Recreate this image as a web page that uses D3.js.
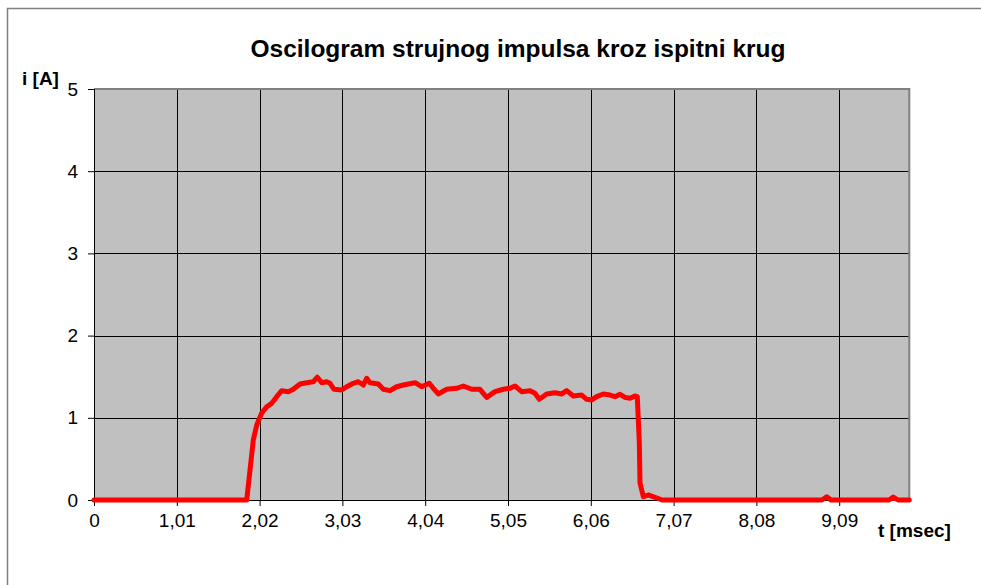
<!DOCTYPE html>
<html><head><meta charset="utf-8">
<script src="https://cdn.jsdelivr.net/npm/d3@7"></script>
<style>body{margin:0;background:#fff}svg{display:block}</style>
</head><body>
<script>
const title = "Oscilogram strujnog impulsa kroz ispitni krug";
const yLabel = "i [A]";
const xLabel = "t [msec]";
const xTicks = [0, 1.01, 2.02, 3.03, 4.04, 5.05, 6.06, 7.07, 8.08, 9.09];
const yTicks = [0, 1, 2, 3, 4, 5];
const tMax = 9.945;
const t = [0, 1.863, 1.903, 1.943, 1.985, 2.046, 2.107, 2.168, 2.229, 2.290, 2.370, 2.431, 2.513, 2.595, 2.675, 2.724, 2.778, 2.838, 2.879, 2.928, 3.021, 3.082, 3.163, 3.224, 3.285, 3.326, 3.367, 3.468, 3.529, 3.611, 3.692, 3.773, 3.916, 3.997, 4.090, 4.139, 4.200, 4.302, 4.424, 4.505, 4.607, 4.708, 4.790, 4.891, 4.993, 5.074, 5.135, 5.217, 5.318, 5.379, 5.432, 5.522, 5.623, 5.705, 5.766, 5.847, 5.949, 6.010, 6.071, 6.132, 6.213, 6.294, 6.355, 6.416, 6.477, 6.538, 6.599, 6.627, 6.652, 6.660, 6.701, 6.761, 6.843, 6.929, 8.880, 8.938, 8.990, 9.698, 9.750, 9.807, 9.945];
const current = [0, 0, 0.365, 0.730, 0.912, 1.058, 1.135, 1.176, 1.257, 1.330, 1.318, 1.347, 1.411, 1.427, 1.439, 1.493, 1.427, 1.439, 1.420, 1.347, 1.338, 1.378, 1.420, 1.439, 1.399, 1.481, 1.427, 1.411, 1.347, 1.330, 1.378, 1.399, 1.427, 1.378, 1.420, 1.359, 1.290, 1.347, 1.359, 1.387, 1.347, 1.347, 1.249, 1.318, 1.347, 1.359, 1.387, 1.318, 1.330, 1.298, 1.225, 1.290, 1.305, 1.290, 1.330, 1.265, 1.277, 1.225, 1.217, 1.257, 1.290, 1.277, 1.257, 1.286, 1.249, 1.237, 1.265, 1.257, 0.693, 0.207, 0.040, 0.061, 0.033, 0, 0, 0.040, 0, 0, 0.036, 0, 0];

const W = 981, H = 585;
const m = {left: 94, top: 89, right: 909.3, bottom: 500};
const svg = d3.select("body").append("svg").attr("width", W).attr("height", H);
const font = "'Liberation Sans', Arial, sans-serif";

// outer chart border
svg.append("rect").attr("x", 7.5).attr("y", 8.5).attr("width", W).attr("height", H)
  .attr("fill", "none").attr("stroke", "#808080").attr("stroke-width", 1.5);

const x = d3.scaleLinear().domain([0, tMax]).range([m.left, m.right]);
const y = d3.scaleLinear().domain([0, 5]).range([m.bottom, m.top]);

// plot area background
svg.append("rect").attr("x", m.left).attr("y", m.top)
  .attr("width", m.right - m.left).attr("height", m.bottom - m.top).attr("fill", "#c0c0c0");

// gridlines
const g = svg.append("g");
g.selectAll("line.h").data(yTicks.slice(1, -1)).join("line")
  .attr("x1", m.left).attr("x2", m.right)
  .attr("y1", d => Math.round(y(d)) + 0.5).attr("y2", d => Math.round(y(d)) + 0.5)
  .attr("stroke", "#000").attr("stroke-width", 1);
g.selectAll("line.v").data(xTicks.slice(1)).join("line")
  .attr("y1", m.top).attr("y2", m.bottom)
  .attr("x1", d => Math.round(x(d)) + 0.5).attr("x2", d => Math.round(x(d)) + 0.5)
  .attr("stroke", "#000").attr("stroke-width", 1);

// plot border top/right
svg.append("path")
  .attr("d", `M${m.left},${m.top} H${m.right} V${m.bottom}`)
  .attr("fill", "none").attr("stroke", "#808080").attr("stroke-width", 2);

// axes
const xAxis = d3.axisBottom(x).tickValues(xTicks).tickSize(6).tickPadding(8)
  .tickFormat(d => d === 0 ? "0" : d3.format(".2f")(d).replace(".", ","));
const gx = svg.append("g").attr("transform", `translate(0,${m.bottom})`).call(xAxis);
gx.select(".domain").attr("d", `M${m.left},0.5H${m.right}`).attr("stroke", "#000");
gx.selectAll("text").attr("font-family", font).attr("font-size", 19).attr("fill", "#000");

const yAxis = d3.axisLeft(y).tickValues(yTicks).tickSize(6).tickPadding(10).tickFormat(d3.format("d"));
const gy = svg.append("g").attr("transform", `translate(${m.left},0)`).call(yAxis);
gy.select(".domain").attr("d", `M0.5,${m.top}V${m.bottom}`).attr("stroke", "#000");
gy.selectAll("text").attr("font-family", font).attr("font-size", 19).attr("fill", "#000");

// line
const line = d3.line().x((d, i) => x(t[i])).y(d => y(d));
svg.append("path").datum(current).attr("d", line)
  .attr("fill", "none").attr("stroke", "#ff0000").attr("stroke-width", 5)
  .attr("stroke-linejoin", "round").attr("stroke-linecap", "round");

// texts
svg.append("text").attr("x", 518).attr("y", 57).attr("text-anchor", "middle")
  .attr("font-family", font).attr("font-weight", "bold").attr("font-size", 24.5).text(title);
svg.append("text").attr("x", 22).attr("y", 85)
  .attr("font-family", font).attr("font-weight", "bold").attr("font-size", 19).text(yLabel);
svg.append("text").attr("x", 878).attr("y", 537)
  .attr("font-family", font).attr("font-weight", "bold").attr("font-size", 19).text(xLabel);
</script>
</body></html>
